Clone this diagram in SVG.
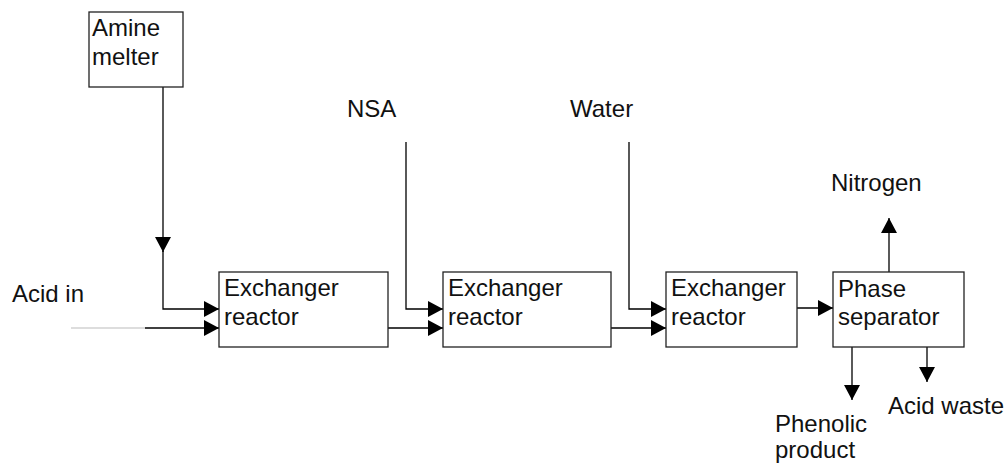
<svg xmlns="http://www.w3.org/2000/svg" width="1005" height="463" viewBox="0 0 1005 463">
<style>
.box{fill:#fff;stroke:#222;stroke-width:1.3}
.t{font-family:"Liberation Sans",Arial,sans-serif;font-size:24px;fill:#111}
.c{fill:none;stroke:#000;stroke-width:1.3}
</style>
<defs>
<marker id="ah" markerUnits="userSpaceOnUse" markerWidth="17" markerHeight="17" refX="15" refY="8" orient="auto">
<path d="M0,0 L15,8 L0,16 Z" fill="#000"/>
</marker>
</defs>
<rect width="1005" height="463" fill="#fff"/>
<g id="connectors">
<line x1="71" y1="328" x2="145" y2="328" stroke="#bbb" stroke-width="1"/>
<path class="c" d="M145,328 H219" marker-end="url(#ah)"/>
<path class="c" d="M163,87 V252" marker-end="url(#ah)"/>
<path class="c" d="M163,251 V309 H219" marker-end="url(#ah)"/>
<path class="c" d="M388,328 H443" marker-end="url(#ah)"/>
<path class="c" d="M406,142 V309 H443" marker-end="url(#ah)"/>
<path class="c" d="M611,328 H666" marker-end="url(#ah)"/>
<path class="c" d="M629,142 V309 H666" marker-end="url(#ah)"/>
<path class="c" d="M797,308 H833" marker-end="url(#ah)"/>
<path class="c" d="M889,272 V218" marker-end="url(#ah)"/>
<path class="c" d="M852,347 V400" marker-end="url(#ah)"/>
<path class="c" d="M927,347 V382" marker-end="url(#ah)"/>
</g>
<g id="amine-melter">
<rect class="box" x="89" y="12" width="94" height="75"/>
<text class="t" x="92" y="36">Amine</text>
<text class="t" x="92" y="65">melter</text>
</g>
<g id="reactor1">
<rect class="box" x="219" y="272" width="169" height="75"/>
<text class="t" x="224" y="296">Exchanger</text>
<text class="t" x="224" y="325">reactor</text>
</g>
<g id="reactor2">
<rect class="box" x="443" y="272" width="168" height="75"/>
<text class="t" x="448" y="296">Exchanger</text>
<text class="t" x="448" y="325">reactor</text>
</g>
<g id="reactor3">
<rect class="box" x="666" y="272" width="131" height="75"/>
<text class="t" x="671" y="296">Exchanger</text>
<text class="t" x="671" y="325">reactor</text>
</g>
<g id="phase-separator">
<rect class="box" x="833" y="272" width="131" height="75"/>
<text class="t" x="838" y="297">Phase</text>
<text class="t" x="838" y="325">separator</text>
</g>
<g id="labels">
<text class="t" x="12" y="302">Acid in</text>
<text class="t" x="347" y="117">NSA</text>
<text class="t" x="570" y="117">Water</text>
<text class="t" x="831" y="191">Nitrogen</text>
<text class="t" x="775" y="432">Phenolic</text>
<text class="t" x="775" y="458">product</text>
<text class="t" x="888" y="414">Acid waste</text>
</g>
</svg>
